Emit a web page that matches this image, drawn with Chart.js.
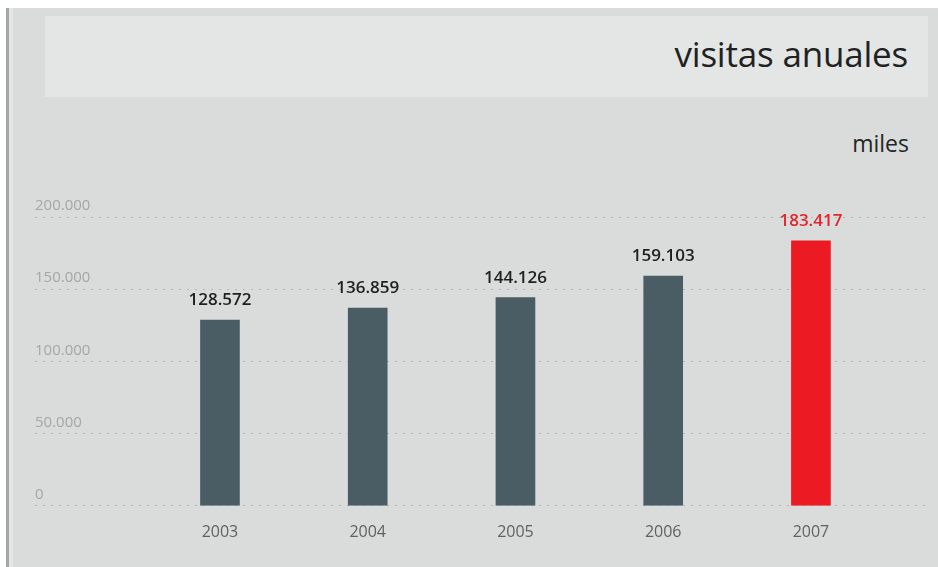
<!DOCTYPE html>
<html lang="es">
<head>
<meta charset="utf-8">
<title>visitas anuales</title>
<script src="https://cdn.jsdelivr.net/npm/chart.js@4/dist/chart.umd.min.js"></script>
<style>
  html, body { margin: 0; padding: 0; }
  body {
    width: 938px; height: 567px; overflow: hidden; position: relative;
    background: #d9dcdb; font-family: "Open Sans", sans-serif;
  }
  .top-strip { position: absolute; left: 0; top: 0; width: 938px; height: 8px; background: #ffffff; }
  .left-white { position: absolute; left: 0; top: 0; width: 6px; height: 567px; background: #ffffff; }
  .left-rule { position: absolute; left: 6px; top: 8px; width: 3px; height: 559px; background: #a3a7a6; }
  .left-light { position: absolute; left: 9px; top: 8px; width: 4px; height: 559px; background: #e4e6e5; }
  .panel {
    position: absolute; left: 45px; top: 16px; width: 883px; height: 81px;
    background: #e3e6e5;
  }
  .panel h1 {
    position: absolute; right: 20px; top: 14px; margin: 0;
    font: 400 35px "Open Sans", sans-serif; color: #1f2222; letter-spacing: -0.2px;
  }
  .unit {
    position: absolute; right: 29px; top: 127px;
    font: 400 23px "Open Sans", sans-serif; color: #222626;
  }
  #chart-wrap { position: absolute; left: 0; top: 0; width: 938px; height: 567px; }
</style>
</head>
<body>
<div class="top-strip"></div>
<div class="left-white"></div>
<div class="left-rule"></div>
<div class="left-light"></div>
<div class="panel"><h1>visitas anuales</h1></div>
<div class="unit">miles</div>
<div id="chart-wrap"><canvas id="chart"></canvas></div>
<script>
// Annual visits, 2003–2007
const years = ['2003', '2004', '2005', '2006', '2007'];
const visits = [128572, 136859, 144126, 159103, 183417];
const barColors = ['#4a5d64', '#4a5d64', '#4a5d64', '#4a5d64', '#ec1a22'];
const labelColors = ['#1e2020', '#1e2020', '#1e2020', '#1e2020', '#e0262c'];
const yTicks = [0, 50000, 100000, 150000, 200000];

// "128572" -> "128.572"
function fmt(n) {
  return String(Math.round(n)).replace(/\B(?=(\d{3})+(?!\d))/g, '.');
}

// Value printed above each bar
const valueLabels = {
  id: 'valueLabels',
  afterDatasetsDraw(chart) {
    const ctx = chart.ctx;
    const meta = chart.getDatasetMeta(0);
    ctx.save();
    ctx.font = '600 17px "Open Sans", sans-serif';
    ctx.textAlign = 'center';
    ctx.textBaseline = 'middle';
    meta.data.forEach((bar, i) => {
      ctx.fillStyle = labelColors[i];
      ctx.fillText(fmt(visits[i]), bar.x, bar.y - 20);
    });
    ctx.restore();
  }
};

new Chart(document.getElementById('chart'), {
  type: 'bar',
  data: {
    datasets: [{
      data: visits.map((v, i) => ({ x: i, y: v })),
      backgroundColor: barColors,
      borderWidth: 0,
      barThickness: 39
    }]
  },
  options: {
    responsive: true,
    maintainAspectRatio: false,
    animation: false,
    layout: { padding: { left: 35, right: 13, top: 217, bottom: 16 } },
    plugins: { legend: { display: false }, tooltip: { enabled: false } },
    scales: {
      x: {
        type: 'linear',
        offset: false,
        min: -1.252,
        max: 4.772,
        afterBuildTicks(scale) { scale.ticks = years.map((y, i) => ({ value: i })); },
        grid: { display: false },
        border: { display: false },
        ticks: {
          autoSkip: false,
          maxRotation: 0,
          padding: 9,
          color: '#5e6262',
          font: { family: '"Open Sans", sans-serif', size: 16 },
          callback: (v) => years[v] ?? ''
        }
      },
      y: {
        min: 0,
        max: 200000,
        afterBuildTicks(scale) { scale.ticks = yTicks.map(v => ({ value: v })); },
        grid: { color: '#b4b8b7', lineWidth: 1, drawTicks: false },
        border: { display: false, dash: [2, 6] },
        ticks: {
          mirror: true,
          padding: 0,
          labelOffset: -11,
          color: '#a3a7a6',
          font: { family: '"Open Sans", sans-serif', size: 15 },
          callback: (v) => fmt(v)
        }
      }
    }
  },
  plugins: [valueLabels]
});
</script>
</body>
</html>
